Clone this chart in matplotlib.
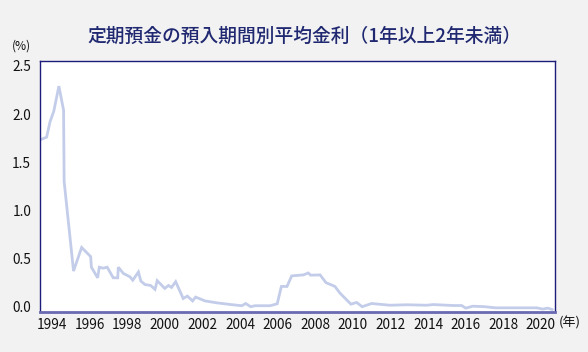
import matplotlib
matplotlib.use("Agg")
import matplotlib.pyplot as plt

plt.rcParams['font.family'] = ['Noto Sans CJK JP', 'DejaVu Sans']

title = "定期預金の預入期間別平均金利（1年以上2年未満）"
years = [1993.34, 1993.72, 1993.9, 1994.1, 1994.37, 1994.62, 1994.65, 1995.15, 1995.58,
         1996.06, 1996.1, 1996.43, 1996.52, 1996.73, 1996.94, 1997.26, 1997.5, 1997.53,
         1997.8, 1998.15, 1998.3, 1998.6, 1998.73, 1998.95, 1999.25, 1999.48, 1999.6,
         2000.0, 2000.2, 2000.36, 2000.58, 2000.98, 2001.2, 2001.48, 2001.64, 2002.14,
         2002.76, 2003.47, 2004.1, 2004.3, 2004.57, 2004.8, 2005.6, 2005.98, 2006.2,
         2006.5, 2006.75, 2007.37, 2007.63, 2007.76, 2008.26, 2008.57, 2009.05, 2009.32,
         2009.9, 2010.2, 2010.5, 2011.0, 2011.98, 2012.87, 2013.93, 2014.28, 2015.35,
         2015.79, 2016.0, 2016.38, 2017.0, 2017.6, 2019.78, 2020.1, 2020.37, 2020.6]
rates = [1.73, 1.76, 1.92, 2.03, 2.29, 2.04, 1.30, 0.37, 0.615,
         0.52, 0.41, 0.30, 0.41, 0.40, 0.41, 0.30, 0.30, 0.41,
         0.345, 0.31, 0.275, 0.36, 0.265, 0.23, 0.22, 0.18, 0.27,
         0.19, 0.22, 0.20, 0.26, 0.085, 0.11, 0.06, 0.10, 0.06,
         0.04, 0.023, 0.01, 0.033, 0.0, 0.01, 0.01, 0.03, 0.21,
         0.21, 0.32, 0.33, 0.35, 0.327, 0.33, 0.25, 0.21, 0.14,
         0.026, 0.044, 0.0, 0.033, 0.015, 0.02, 0.015, 0.022, 0.012,
         0.012, -0.015, 0.005, 0.0, -0.012, -0.012, -0.025, -0.015, -0.03]
xtick_years = list(range(1994, 2021, 2))
ytick_vals = [0.0, 0.5, 1.0, 1.5, 2.0, 2.5]

fig = plt.figure(figsize=(5.88, 3.52), dpi=100, facecolor='#f2f2f2')
L, R, T, B = 39.5, 555, 61, 311.5
ax = fig.add_axes([L/588, 1 - B/352, (R - L)/588, (B - T)/352])
ax.set_facecolor('white')
ax.plot(years, rates, color='#c3cde9', lw=2.0, solid_joinstyle='miter')
ax.set_xlim(1993.34, 2020.75)
ax.set_ylim(-0.05, 2.551)
ax.set_xticks(xtick_years)
ax.set_xticklabels([str(y) for y in xtick_years])
ax.set_yticks(ytick_vals)
ax.set_yticklabels([f"{v:.1f}" for v in ytick_vals])
ax.tick_params(length=0, labelsize=9.8, colors='#111111')
ax.tick_params(axis='x', pad=5)
ax.tick_params(axis='y', pad=6)
for s in ['left', 'top', 'right']:
    ax.spines[s].set_color('#1c1c7a')
    ax.spines[s].set_linewidth(1.0)
ax.spines['bottom'].set_color('#6a6ab2')
ax.spines['bottom'].set_linewidth(2.0)

fig.text(304/588, 1 - 36/352, title, ha='center', va='center', fontsize=13.5,
         color='#1f2870', fontweight='medium')
fig.text(21/588, 1 - 46/352, "(%)", ha='center', va='center', fontsize=8.6, color='#111111')
fig.text(570/588, 1 - 323/352, "(年)", ha='center', va='center', fontsize=9.4, color='#111111')

fig.savefig('out.png', dpi=100, facecolor=fig.get_facecolor())
